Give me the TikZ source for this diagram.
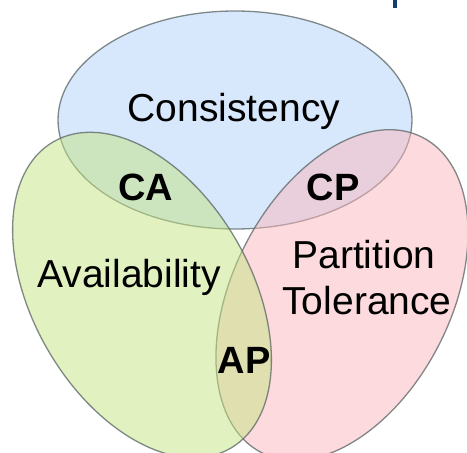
\documentclass[tikz,border=0pt]{standalone}
\usepackage{fontspec}
\setmainfont{Liberation Sans}
\definecolor{cblue}{RGB}{178,210,250}
\definecolor{cgreen}{RGB}{196,228,130}
\definecolor{cred}{RGB}{250,182,188}
\definecolor{cline}{RGB}{90,100,100}
\definecolor{cbar}{RGB}{20,62,112}
\begin{document}
\begin{tikzpicture}[x=1pt,y=-1pt,
  venn/.style={draw=cline, draw opacity=0.75, line width=1.3pt, fill opacity=0.5},
  big/.style={font=\fontsize{39}{45}\selectfont, anchor=base, inner sep=0pt},
  pair/.style={font=\fontsize{38}{44}\selectfont\bfseries, anchor=base, inner sep=0pt}]
\useasboundingbox (0,0) rectangle (467,453);
\clip (0,0) rectangle (467,453);
\fill[white] (0,0) rectangle (467,453);
\fill[cbar] (393,0) rectangle (397,8);
% ellipses
\path[venn, fill=cblue] (235,120) ellipse [x radius=177, y radius=109];
\path[venn, fill=cred, rotate around={63:(342,295)}] (342,295) ellipse [x radius=177, y radius=109];
\path[venn, fill=cgreen, rotate around={-60:(142,295)}] (142,295) ellipse [x radius=177, y radius=109];
% labels
\node[big] (cons) at (234,121) {Consistency};
\node[big] (avail) at (129,287) {Availability};
\node[big] (part) at (364,268) {Partition};
\node[big] (tol) at (367,314) {Tolerance};
\node[pair] (ca) at (146,200) {CA};
\node[pair] (cp) at (333,200) {CP};
\node[pair] (ap) at (244,373) {AP};
\end{tikzpicture}
\end{document}
